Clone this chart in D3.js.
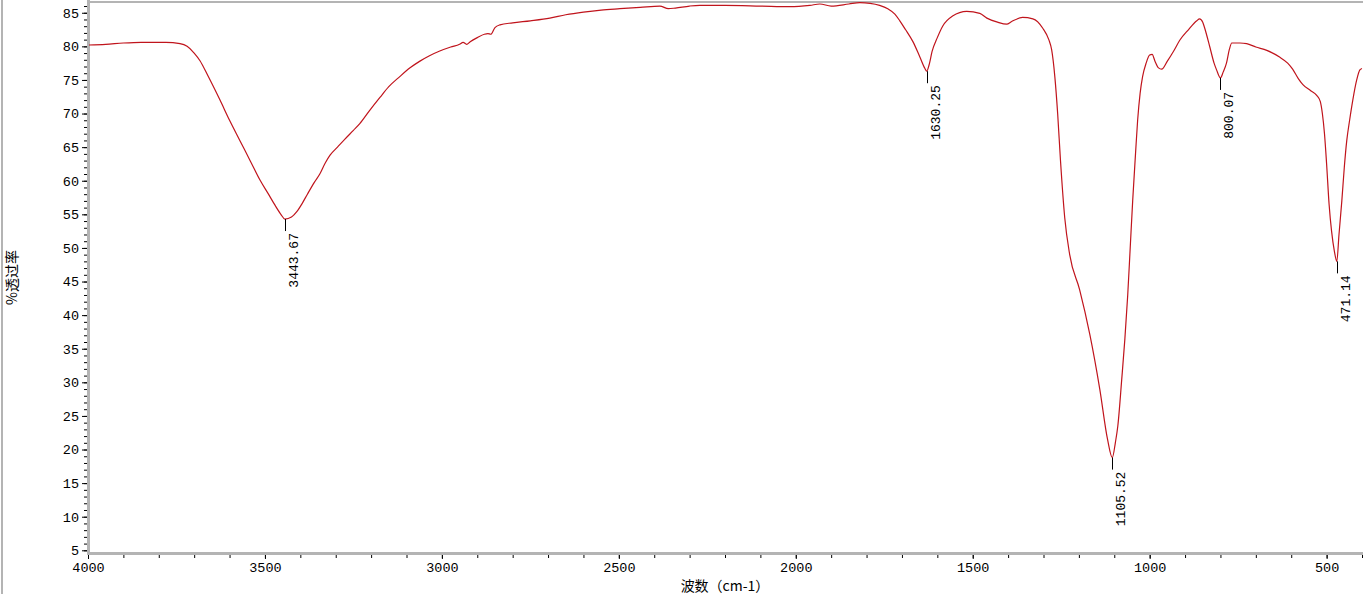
<!DOCTYPE html>
<html>
<head>
<meta charset="utf-8">
<script src="https://cdn.jsdelivr.net/npm/d3@7"></script>
<style>
  body { margin: 0; background: #fff; }
  svg { display: block; }
  .tick text { font-family: "Liberation Mono", "DejaVu Sans Mono", monospace; font-size: 13.5px; fill: #000; }
</style>
</head>
<body>
<div id="chart"></div>
<script>
// IR spectrum
const wavenumber = [4000, 3950, 3900, 3850, 3780, 3740, 3720, 3700, 3684, 3660, 3627, 3600, 3571, 3540, 3514, 3490, 3472, 3455, 3443.67, 3425, 3410, 3395, 3380, 3360, 3345, 3330, 3316, 3295, 3274, 3250, 3232, 3205, 3175, 3150, 3119, 3090, 3062, 3035, 3006, 2975, 2950, 2940, 2930, 2920, 2900, 2880, 2870, 2862, 2850, 2836, 2800, 2750, 2695, 2650, 2600, 2550, 2497, 2440, 2384, 2360, 2340, 2300, 2271, 2200, 2100, 2017, 1960, 1932, 1900, 1850, 1819, 1790, 1763, 1740, 1720, 1706, 1690, 1669, 1650, 1635, 1630.25, 1622, 1615, 1600, 1585, 1557, 1517, 1480, 1460, 1430, 1404, 1390, 1359, 1330, 1302, 1285, 1277, 1268, 1260, 1252, 1240, 1226, 1198, 1169, 1141, 1119, 1105.52, 1097, 1090, 1079, 1070, 1062, 1055, 1048, 1040, 1034, 1027, 1020, 1010, 1000, 993, 985, 975, 966, 950, 930, 915, 890, 867, 859, 850, 845, 830, 818, 811, 800.07, 792, 783, 775, 768, 745, 726, 700, 669, 633, 610, 596, 580, 567, 545, 528, 518, 512, 506, 500, 493, 486, 478, 471.14, 465, 457, 450, 443, 435, 426, 415, 406, 400];
const transmittance = [80.2, 80.3, 80.5, 80.6, 80.6, 80.4, 80.0, 79.0, 77.9, 75.5, 72.0, 69.0, 66.0, 62.8, 60.1, 58.0, 56.4, 55.0, 54.3, 54.6, 55.4, 56.6, 58.0, 59.8, 61.0, 62.6, 63.8, 65.0, 66.2, 67.5, 68.5, 70.4, 72.4, 74.0, 75.5, 76.8, 77.8, 78.6, 79.3, 79.9, 80.3, 80.6, 80.3, 80.7, 81.3, 81.8, 81.9, 81.8, 82.8, 83.2, 83.5, 83.8, 84.2, 84.7, 85.1, 85.4, 85.6, 85.8, 86.0, 85.6, 85.7, 86.0, 86.1, 86.1, 86.0, 85.9, 86.1, 86.3, 86.0, 86.3, 86.5, 86.4, 86.1, 85.6, 84.8, 83.8, 82.5, 80.7, 78.5, 76.7, 76.3, 77.5, 79.2, 81.3, 83.0, 84.5, 85.2, 84.9, 84.2, 83.6, 83.3, 83.7, 84.3, 84.1, 82.7, 81.0, 79.5, 75.5, 70.0, 63.0, 54.5, 49.0, 43.8, 37.1, 29.0, 21.5, 18.8, 21.0, 23.5, 30.4, 36.5, 43.0, 50.0, 57.0, 64.0, 69.0, 73.0, 75.5, 77.5, 78.7, 78.8, 77.8, 76.8, 76.6, 77.8, 79.5, 80.9, 82.5, 83.8, 84.1, 83.6, 82.8, 79.9, 77.5, 76.5, 75.3, 76.2, 77.5, 79.5, 80.5, 80.5, 80.4, 79.9, 79.4, 78.4, 77.5, 76.6, 75.2, 74.3, 73.4, 72.7, 71.8, 70.0, 67.0, 62.5, 56.5, 52.5, 49.5, 48.0, 52.0, 57.0, 62.0, 66.0, 69.0, 72.0, 75.0, 76.5, 76.7];

// labelled peaks
const peakWn = [3443.67, 1630.25, 1105.52, 800.07, 471.14];
const peakT = [54.3, 76.3, 18.8, 75.3, 48.0];
const peakLabels = ['3443.67', '1630.25', '1105.52', '800.07', '471.14'];

const xTicks = [4000, 3500, 3000, 2500, 2000, 1500, 1000, 500];
const yTicks = [5, 10, 15, 20, 25, 30, 35, 40, 45, 50, 55, 60, 65, 70, 75, 80, 85];

const width = 1366;
const height = 598;
const area = { left: 88, right: 1362, top: 2, bottom: 553 };

const svg = d3.select('#chart')
  .append('svg')
  .attr('width', width)
  .attr('height', height);

const xScale = d3.scaleLinear().domain([4000, 400]).range([area.left, area.right]);
const yScale = d3.scaleLinear().domain([4.6, 86.6]).range([area.bottom, area.top]);

const gray = '#b4b4b4';

// frame lines
svg.append('rect').attr('x', 1).attr('y', 0).attr('width', 2).attr('height', height - 4).attr('fill', gray);
svg.append('rect').attr('x', area.left).attr('y', 1).attr('width', area.right - area.left + 1).attr('height', 2).attr('fill', gray);

// minor ticks
const xMinor = d3.range(4000, 399, -100);
const yMinor = d3.range(5, 87, 1);

svg.append('g')
  .attr('transform', `translate(${area.left - 1}, 0)`)
  .call(d3.axisLeft(yScale).tickValues(yMinor).tickSize(3).tickFormat(''))
  .call(g => g.select('.domain').remove());
svg.append('g')
  .attr('transform', `translate(0, ${area.bottom + 1})`)
  .call(d3.axisBottom(xScale).tickValues(xMinor).tickSize(4).tickFormat(''))
  .call(g => g.select('.domain').remove());

// major ticks + labels
svg.append('g')
  .attr('transform', `translate(${area.left - 1}, 0)`)
  .call(d3.axisLeft(yScale).tickValues(yTicks).tickSize(5).tickPadding(3).tickFormat(d3.format('d')))
  .call(g => g.select('.domain').remove());
svg.append('g')
  .attr('transform', `translate(0, ${area.bottom + 1})`)
  .call(d3.axisBottom(xScale).tickValues(xTicks).tickSize(5).tickPadding(3).tickFormat(d3.format('d')))
  .call(g => g.select('.domain').remove());

// gray axis bars
svg.append('rect').attr('x', area.left - 1).attr('y', 0).attr('width', 3).attr('height', area.bottom + 2).attr('fill', gray);
svg.append('rect').attr('x', area.left - 1).attr('y', area.bottom - 1).attr('width', area.right - area.left + 2).attr('height', 3).attr('fill', gray);

// spectrum
svg.append('defs').append('clipPath').attr('id', 'clip')
  .append('rect')
  .attr('x', area.left + 1).attr('y', area.top)
  .attr('width', area.right - area.left).attr('height', area.bottom - area.top - 2);

const line = d3.line()
  .x((d, i) => xScale(wavenumber[i]))
  .y((d, i) => yScale(transmittance[i]))
  .curve(d3.curveMonotoneX);

svg.append('path')
  .datum(wavenumber)
  .attr('clip-path', 'url(#clip)')
  .attr('d', line)
  .attr('fill', 'none')
  .attr('stroke', '#c0141c')
  .attr('stroke-width', 1.2);

// peak annotations
const peaks = svg.append('g').attr('class', 'peaks');
peakWn.forEach((wn, i) => {
  const px = Math.round(xScale(wn)) + 0.5;
  const py = yScale(peakT[i]);
  peaks.append('line')
    .attr('x1', px).attr('x2', px)
    .attr('y1', py).attr('y2', py + 12)
    .attr('stroke', '#000')
    .attr('stroke-width', 1);
  peaks.append('text')
    .attr('transform', `translate(${px + 8}, ${py + 14}) rotate(-90)`)
    .attr('text-anchor', 'end')
    .attr('dy', '0.35em')
    .style('font-family', '"Liberation Mono", "DejaVu Sans Mono", monospace')
    .style('font-size', '13px')
    .text(peakLabels[i]);
});

// axis titles
svg.append('text')
  .attr('x', (area.left + area.right) / 2)
  .attr('y', 591)
  .attr('text-anchor', 'middle')
  .style('font-family', '"Noto Sans CJK SC", sans-serif')
  .style('font-size', '14px')
  .text('波数（cm-1）');

svg.append('text')
  .attr('transform', `translate(17, ${(area.top + area.bottom) / 2}) rotate(-90)`)
  .attr('text-anchor', 'middle')
  .style('font-family', '"Noto Sans CJK SC", sans-serif')
  .style('font-size', '14px')
  .text('%透过率');
</script>
</body>
</html>
